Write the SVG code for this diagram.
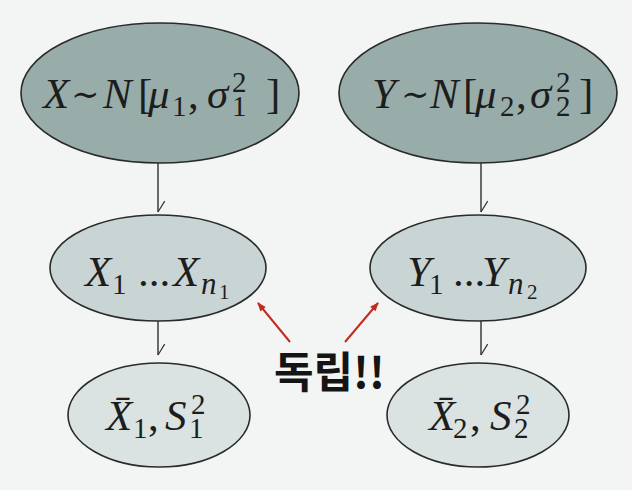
<svg xmlns="http://www.w3.org/2000/svg" width="632" height="490" viewBox="0 0 632 490">
<defs>
<style>
.bg{fill:#f3f4f4}
.n1{fill:#98acaa;stroke:#2a2a2a;stroke-width:1.6}
.n2{fill:#c9d5d4;stroke:#2a2a2a;stroke-width:1.6}
.n3{fill:#dae3e2;stroke:#2a2a2a;stroke-width:1.6}
.m{font-family:"Liberation Serif","DejaVu Serif",serif;font-size:43px;fill:#1d1d1d}
.i{font-style:italic}
.s{font-size:29px}
.ss{font-size:21px}
.t{font-family:"DejaVu Serif",serif;font-size:34px}
.conn{stroke:#2f2f2f;stroke-width:1.4;fill:none}
.red{stroke:#c42a1e;stroke-width:2;fill:none}
.kr{font-family:"Noto Sans CJK KR","Noto Sans",sans-serif;font-weight:bold;font-size:43px;fill:#141414}
</style>
<marker id="harp" markerUnits="userSpaceOnUse" orient="auto" refX="0" refY="0" markerWidth="20" markerHeight="20" viewBox="-16 -12 20 24" style="overflow:visible">
<path d="M0,0 L-13,-8" stroke="#2f2f2f" stroke-width="1.4" fill="none"/>
</marker>
<marker id="redhead" markerUnits="userSpaceOnUse" orient="auto" refX="0" refY="0" markerWidth="14" markerHeight="12" viewBox="-12 -6 14 12" style="overflow:visible">
<path d="M1,0 L-8,-3.5 L-8,3.5 Z" fill="#c42a1e"/>
</marker>
</defs>
<rect class="bg" x="0" y="0" width="632" height="490"/>

<g id="connectors">
<line class="conn" x1="158" y1="163" x2="158" y2="212" marker-end="url(#harp)"/>
<line class="conn" x1="481" y1="163" x2="481" y2="212" marker-end="url(#harp)"/>
<line class="conn" x1="158" y1="321" x2="158" y2="355" marker-end="url(#harp)"/>
<line class="conn" x1="481" y1="321" x2="481" y2="355" marker-end="url(#harp)"/>
<line class="red" x1="290" y1="342" x2="258" y2="303" marker-end="url(#redhead)"/>
<line class="red" x1="345" y1="342" x2="378" y2="303" marker-end="url(#redhead)"/>
</g>

<g id="node-x-dist">
<ellipse class="n1" cx="160" cy="93" rx="139" ry="70"/>
<text class="m"><tspan class="i" x="43" y="108">X</tspan><tspan class="t" x="71" y="106">∼</tspan><tspan class="i" x="103" y="108">N</tspan><tspan x="138" y="108">[</tspan><tspan class="i" x="148" y="108">μ</tspan><tspan class="s" x="172" y="116">1</tspan><tspan x="188" y="108">,</tspan><tspan class="i" x="207" y="108">σ</tspan><tspan class="s" x="232" y="92">2</tspan><tspan class="s" x="232" y="116">1</tspan><tspan x="266" y="108">]</tspan></text>
</g>

<g id="node-y-dist">
<ellipse class="n1" cx="478" cy="93" rx="139" ry="70"/>
<text class="m"><tspan class="i" x="372" y="108">Y</tspan><tspan class="t" x="401" y="106">∼</tspan><tspan class="i" x="430" y="108">N</tspan><tspan x="463" y="108">[</tspan><tspan class="i" x="475" y="108">μ</tspan><tspan class="s" x="500" y="116">2</tspan><tspan x="516" y="108">,</tspan><tspan class="i" x="530" y="108">σ</tspan><tspan class="s" x="556" y="92">2</tspan><tspan class="s" x="556" y="116">2</tspan><tspan x="579" y="108">]</tspan></text>
</g>

<g id="node-x-sample">
<ellipse class="n2" cx="158" cy="268" rx="108" ry="53"/>
<text class="m"><tspan class="i" x="85" y="286">X</tspan><tspan class="s" x="112" y="294">1</tspan><tspan x="138" y="286">...</tspan><tspan class="i" x="173" y="286">X</tspan><tspan class="s i" x="201" y="294" style="font-size:31px">n</tspan><tspan class="ss" x="219" y="299">1</tspan></text>
</g>

<g id="node-y-sample">
<ellipse class="n2" cx="478" cy="268" rx="108" ry="53"/>
<text class="m"><tspan class="i" x="407" y="286">Y</tspan><tspan class="s" x="429" y="294">1</tspan><tspan x="453" y="286">...</tspan><tspan class="i" x="482" y="286">Y</tspan><tspan class="s i" x="508" y="294" style="font-size:31px">n</tspan><tspan class="ss" x="527" y="299">2</tspan></text>
</g>

<g id="node-x-stats">
<ellipse class="n3" cx="159" cy="415" rx="91" ry="52"/>
<text class="m"><tspan class="i" x="106" y="430">X̄</tspan><tspan class="s" x="133" y="438">1</tspan><tspan x="148" y="430">,</tspan><tspan class="i" x="165" y="430">S</tspan><tspan class="s" x="191" y="414">2</tspan><tspan class="s" x="189" y="438">1</tspan></text>
</g>

<g id="node-y-stats">
<ellipse class="n3" cx="478" cy="415" rx="91" ry="52"/>
<text class="m"><tspan class="i" x="429" y="430">X̄</tspan><tspan class="s" x="453" y="438">2</tspan><tspan x="470" y="430">,</tspan><tspan class="i" x="490" y="430">S</tspan><tspan class="s" x="516" y="414">2</tspan><tspan class="s" x="514" y="438">2</tspan></text>
</g>

<g id="label-independent">
<text class="kr" x="274" y="388">독립!!</text>
</g>
</svg>
